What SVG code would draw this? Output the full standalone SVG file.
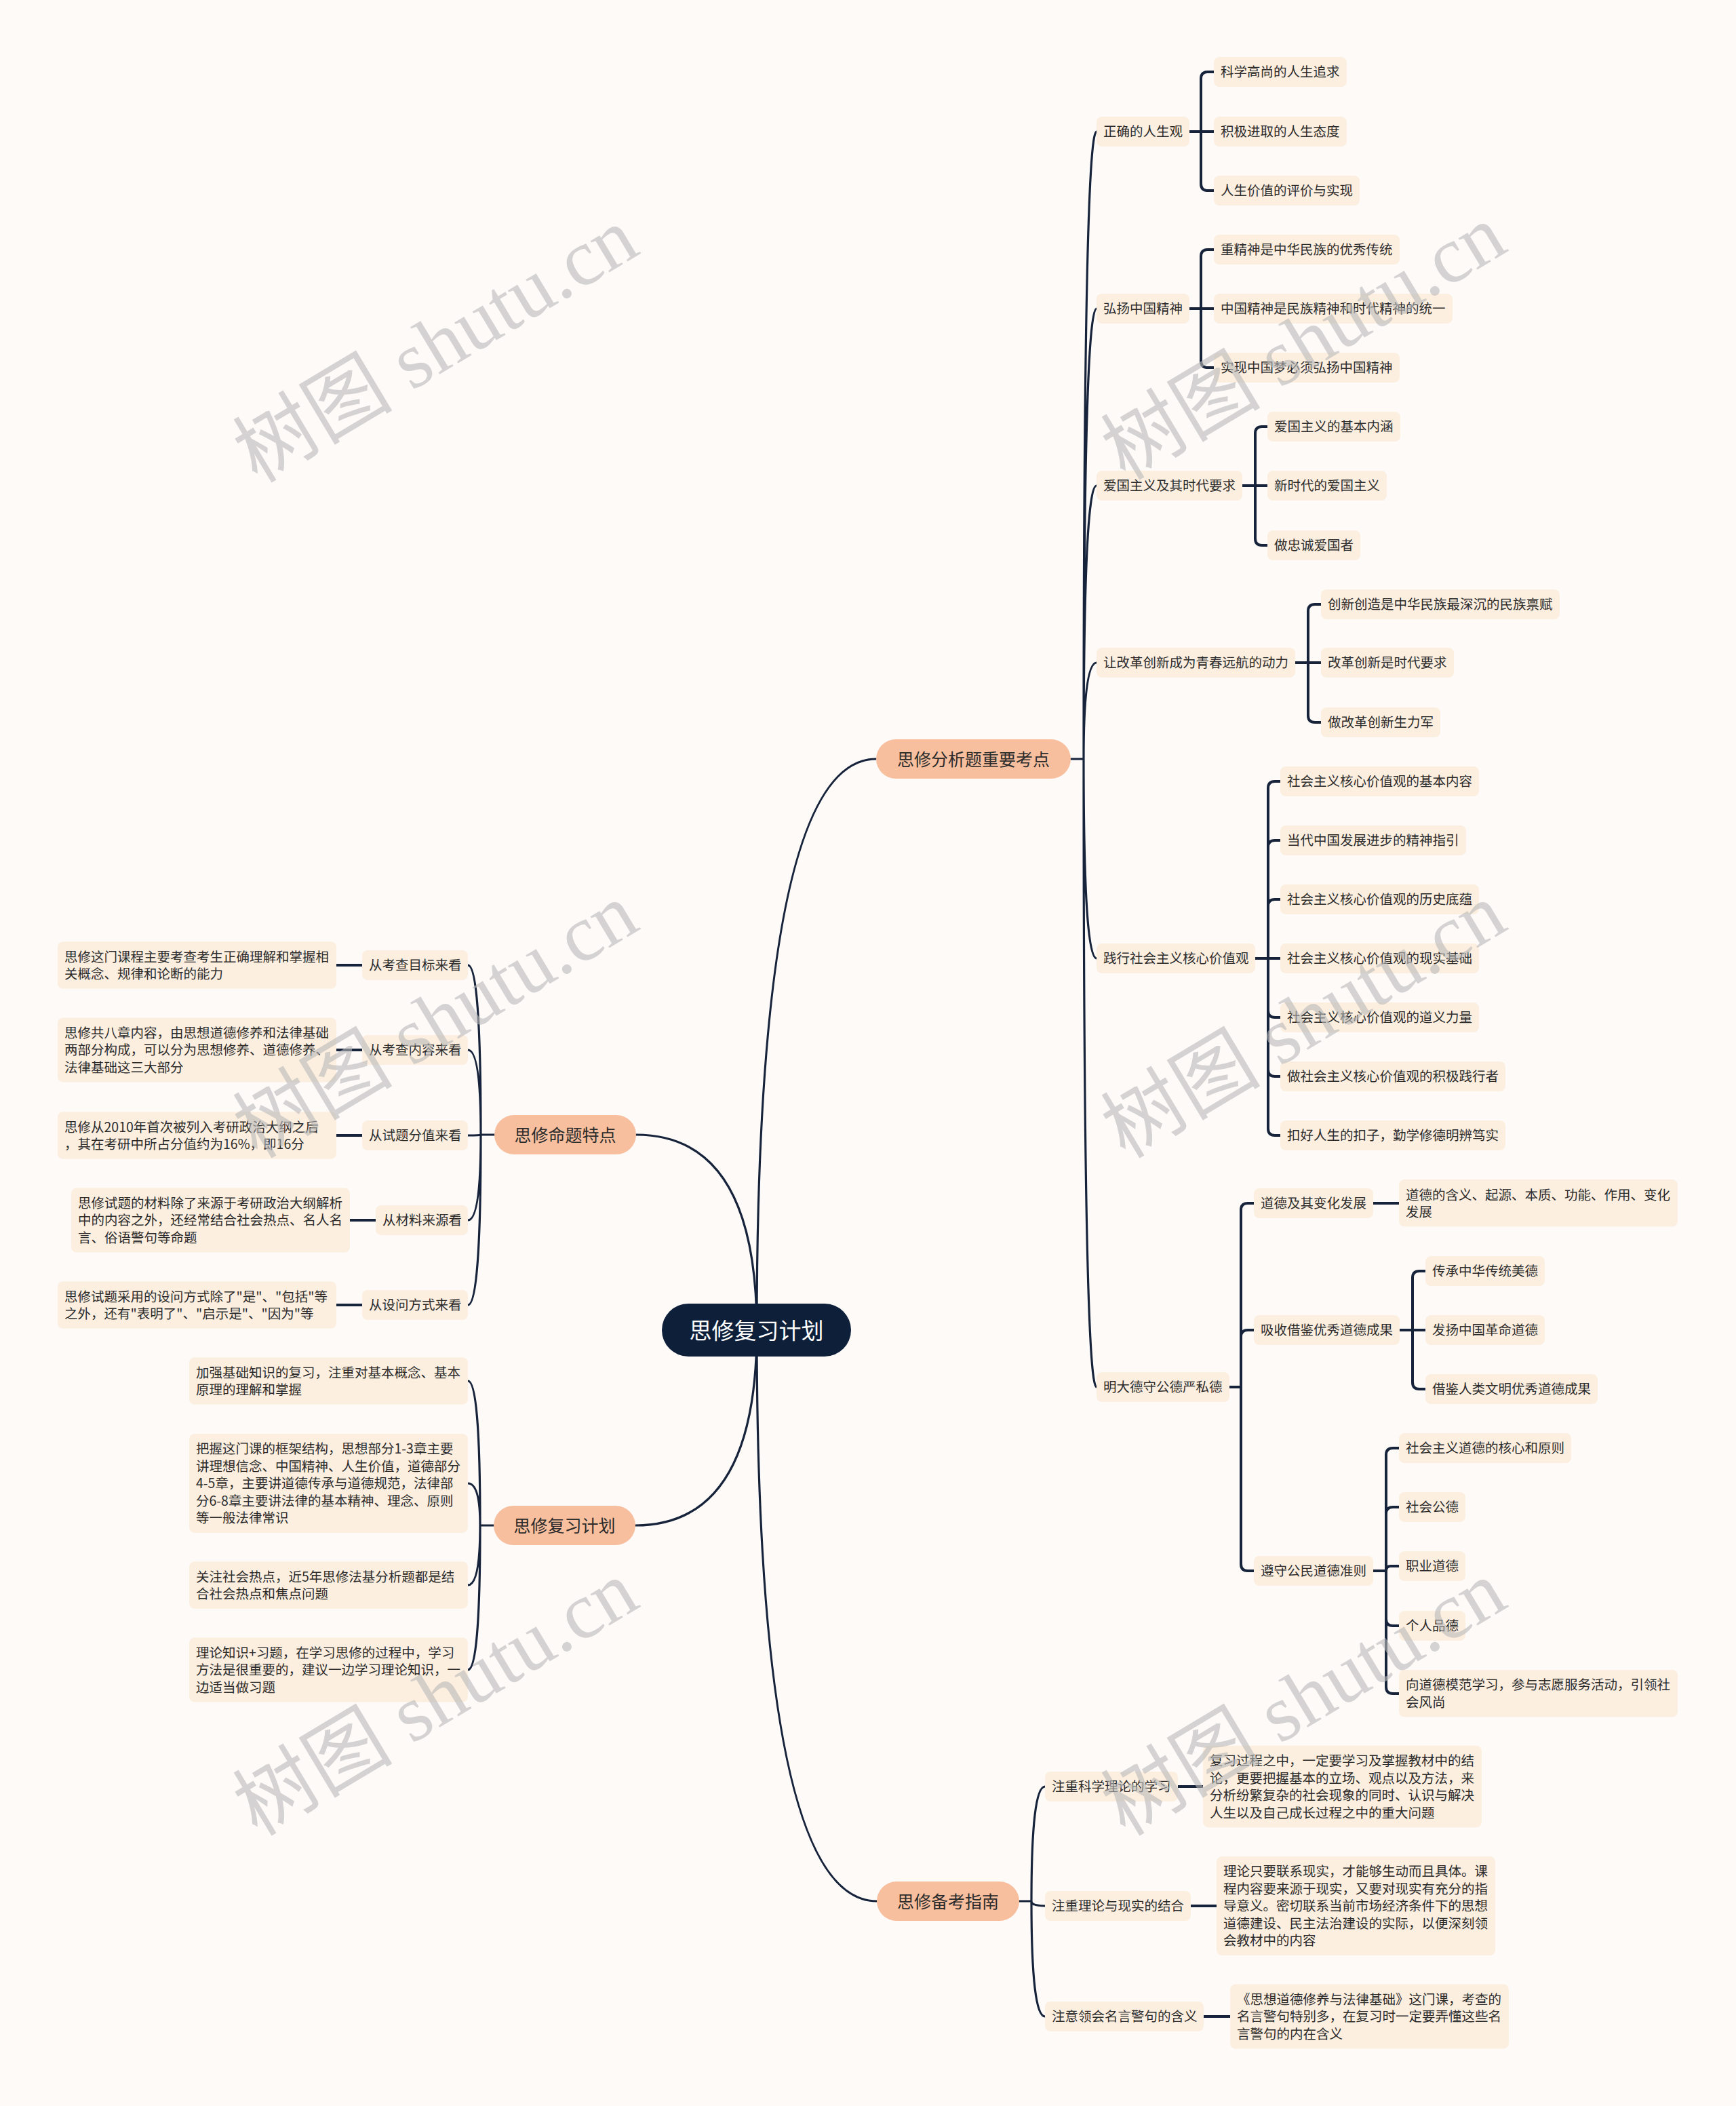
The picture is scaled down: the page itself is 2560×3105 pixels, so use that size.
<svg xmlns="http://www.w3.org/2000/svg" width="2560" height="3105" viewBox="0 0 2560 3105">
<style>
text{font-family:"Noto Sans CJK SC","Liberation Sans",sans-serif;fill:#2b2b2b}
.n rect{fill:#fdefe0}
.n text{font-size:19.5px}
.l1 rect{fill:#f8bf9e}
.l1 text{font-size:25px;text-anchor:middle}
.root rect{fill:#0e1f3a}
.root text{font-size:33px;fill:#ffffff;text-anchor:middle}
.cv{fill:none;stroke:#16233b;stroke-width:3.2;stroke-linecap:round}
.br{fill:none;stroke:#16233b;stroke-width:4;stroke-linecap:round;stroke-linejoin:round}
.wm{font-family:"Liberation Serif","Noto Sans CJK SC",serif;font-size:118px;fill:#b9b9b9;opacity:0.6;text-anchor:middle}
</style>
<rect width="2560" height="3105" fill="#fdfaf8"/>

<g id="connectors">
<path class="cv" d="M1116 1961 Q1116 1119 1292 1119"/>
<path class="cv" d="M1116 1961 Q1116 1673 938 1673"/>
<path class="cv" d="M1116 1961 Q1116 2249 937 2249"/>
<path class="cv" d="M1116 1961 Q1116 2803 1293 2803"/>
<path class="cv" d="M1579 1119 H1598 M1598 1119 Q1598 194 1617 194 M1598 1119 Q1598 455 1617 455 M1598 1119 Q1598 716 1617 716 M1598 1119 Q1598 977 1617 977 M1598 1119 Q1598 1413 1617 1413 M1598 1119 Q1598 2045 1617 2045"/>
<path class="cv" d="M729 1673 H709 M709 1673 Q709 1423 690 1423 M709 1673 Q709 1548 690 1548 M709 1673 Q709 1674 690 1674 M709 1673 Q709 1799 690 1799 M709 1673 Q709 1924 690 1924"/>
<path class="cv" d="M728 2249 H708 M708 2249 Q708 2036 690 2036 M708 2249 Q708 2187 690 2187 M708 2249 Q708 2337 690 2337 M708 2249 Q708 2462 690 2462"/>
<path class="cv" d="M1503 2803 H1521 M1521 2803 Q1521 2634 1541 2634 M1521 2803 Q1521 2810 1541 2810 M1521 2803 Q1521 2973 1541 2973"/>
<path class="br" d="M1754 194 H1790 M1771 194 V116 Q1771 106 1781 106 H1790 M1771 194 V271 Q1771 281 1781 281 H1790"/>
<path class="br" d="M1754 455 H1790 M1771 455 V378 Q1771 368 1781 368 H1790 M1771 455 V532 Q1771 542 1781 542 H1790"/>
<path class="br" d="M1832 716 H1869 M1851 716 V639 Q1851 629 1861 629 H1869 M1851 716 V794 Q1851 804 1861 804 H1869"/>
<path class="br" d="M1910 977 H1948 M1929 977 V901 Q1929 891 1939 891 H1948 M1929 977 V1055 Q1929 1065 1939 1065 H1948"/>
<path class="br" d="M1851 1413 H1888 M1870 1413 V1162 Q1870 1152 1880 1152 H1888 M1870 1413 V1249 Q1870 1239 1880 1239 H1888 M1870 1413 V1336 Q1870 1326 1880 1326 H1888 M1870 1413 V1490 Q1870 1500 1880 1500 H1888 M1870 1413 V1577 Q1870 1587 1880 1587 H1888 M1870 1413 V1664 Q1870 1674 1880 1674 H1888"/>
<path class="br" d="M1813 2045 H1830 M1830 2045 V1784 Q1830 1774 1840 1774 H1849 M1830 2045 V1971 Q1830 1961 1840 1961 H1849 M1830 2045 V2306 Q1830 2316 1840 2316 H1849"/>
<path class="br" d="M2025 1774 H2063"/>
<path class="br" d="M2064 1961 H2102 M2083 1961 V1884 Q2083 1874 2093 1874 H2102 M2083 1961 V2038 Q2083 2048 2093 2048 H2102"/>
<path class="br" d="M2025 2316 H2044 M2044 2316 V2145 Q2044 2135 2054 2135 H2063 M2044 2316 V2232 Q2044 2222 2054 2222 H2063 M2044 2316 Q2044 2309 2051 2309 H2063 M2044 2316 V2387 Q2044 2397 2054 2397 H2063 M2044 2316 V2487 Q2044 2497 2054 2497 H2063"/>
<path class="br" d="M496 1423 H534 M496 1548 H534 M496 1674 H534 M516 1799 H554 M496 1924 H534"/>
<path class="br" d="M1737 2634 H1774 M1756 2810 H1794 M1775 2973 H1814"/>
</g>

<g id="root" class="root"><rect x="976" y="1922" width="279" height="78" rx="39"/><text x="1115.5" y="1973.5">思修复习计划</text></g>

<g id="b1" class="l1"><rect x="1292" y="1090" width="287" height="58" rx="29"/><text x="1435.5" y="1128.5">思修分析题重要考点</text></g>
<g id="b2" class="l1"><rect x="729" y="1644" width="209" height="58" rx="29"/><text x="833.5" y="1682.5">思修命题特点</text></g>
<g id="b3" class="l1"><rect x="728" y="2220" width="209" height="58" rx="29"/><text x="832.5" y="2258.5">思修复习计划</text></g>
<g id="b4" class="l1"><rect x="1293" y="2774" width="210" height="58" rx="29"/><text x="1398" y="2812.5">思修备考指南</text></g>

<g id="n1" class="n"><rect x="1617" y="172" width="137" height="44" rx="8"/><text x="1627" y="201.4">正确的人生观</text></g>
<g id="n1a" class="n"><rect x="1790" y="84" width="196" height="44" rx="8"/><text x="1800" y="113.4">科学高尚的人生追求</text></g>
<g id="n1b" class="n"><rect x="1790" y="172" width="196" height="44" rx="8"/><text x="1800" y="201.4">积极进取的人生态度</text></g>
<g id="n1c" class="n"><rect x="1790" y="259" width="215" height="44" rx="8"/><text x="1800" y="288.4">人生价值的评价与实现</text></g>

<g id="n2" class="n"><rect x="1617" y="433" width="137" height="44" rx="8"/><text x="1627" y="462.4">弘扬中国精神</text></g>
<g id="n2a" class="n"><rect x="1790" y="346" width="274" height="44" rx="8"/><text x="1800" y="375.4">重精神是中华民族的优秀传统</text></g>
<g id="n2b" class="n"><rect x="1790" y="433" width="352" height="44" rx="8"/><text x="1800" y="462.4">中国精神是民族精神和时代精神的统一</text></g>
<g id="n2c" class="n"><rect x="1790" y="520" width="274" height="44" rx="8"/><text x="1800" y="549.4">实现中国梦必须弘扬中国精神</text></g>

<g id="n3" class="n"><rect x="1617" y="694" width="215" height="44" rx="8"/><text x="1627" y="723.4">爱国主义及其时代要求</text></g>
<g id="n3a" class="n"><rect x="1869" y="607" width="196" height="44" rx="8"/><text x="1879" y="636.4">爱国主义的基本内涵</text></g>
<g id="n3b" class="n"><rect x="1869" y="694" width="176" height="44" rx="8"/><text x="1879" y="723.4">新时代的爱国主义</text></g>
<g id="n3c" class="n"><rect x="1869" y="782" width="137" height="44" rx="8"/><text x="1879" y="811.4">做忠诚爱国者</text></g>

<g id="n4" class="n"><rect x="1617" y="955" width="293" height="44" rx="8"/><text x="1627" y="984.4">让改革创新成为青春远航的动力</text></g>
<g id="n4a" class="n"><rect x="1948" y="869" width="352" height="44" rx="8"/><text x="1958" y="898.4">创新创造是中华民族最深沉的民族禀赋</text></g>
<g id="n4b" class="n"><rect x="1948" y="955" width="196" height="44" rx="8"/><text x="1958" y="984.4">改革创新是时代要求</text></g>
<g id="n4c" class="n"><rect x="1948" y="1043" width="176" height="44" rx="8"/><text x="1958" y="1072.4">做改革创新生力军</text></g>

<g id="n5" class="n"><rect x="1617" y="1391" width="234" height="44" rx="8"/><text x="1627" y="1420.4">践行社会主义核心价值观</text></g>
<g id="n5a" class="n"><rect x="1888" y="1130" width="293" height="44" rx="8"/><text x="1898" y="1159.4">社会主义核心价值观的基本内容</text></g>
<g id="n5b" class="n"><rect x="1888" y="1217" width="274" height="44" rx="8"/><text x="1898" y="1246.4">当代中国发展进步的精神指引</text></g>
<g id="n5c" class="n"><rect x="1888" y="1304" width="293" height="44" rx="8"/><text x="1898" y="1333.4">社会主义核心价值观的历史底蕴</text></g>
<g id="n5d" class="n"><rect x="1888" y="1391" width="293" height="44" rx="8"/><text x="1898" y="1420.4">社会主义核心价值观的现实基础</text></g>
<g id="n5e" class="n"><rect x="1888" y="1478" width="293" height="44" rx="8"/><text x="1898" y="1507.4">社会主义核心价值观的道义力量</text></g>
<g id="n5f" class="n"><rect x="1888" y="1565" width="332" height="44" rx="8"/><text x="1898" y="1594.4">做社会主义核心价值观的积极践行者</text></g>
<g id="n5g" class="n"><rect x="1888" y="1652" width="332" height="44" rx="8"/><text x="1898" y="1681.4">扣好人生的扣子，勤学修德明辨笃实</text></g>

<g id="n6" class="n"><rect x="1617" y="2023" width="196" height="44" rx="8"/><text x="1627" y="2052.4">明大德守公德严私德</text></g>
<g id="n6a" class="n"><rect x="1849" y="1752" width="176" height="44" rx="8"/><text x="1859" y="1781.4">道德及其变化发展</text></g>
<g id="n6a1" class="n"><rect x="2063" y="1739" width="411" height="69.5" rx="8"/><text x="2073" y="1768.6">道德的含义、起源、本质、功能、作用、变化<tspan x="2073" y="1794.1">发展</tspan></text></g>
<g id="n6b" class="n"><rect x="1849" y="1939" width="215" height="44" rx="8"/><text x="1859" y="1968.4">吸收借鉴优秀道德成果</text></g>
<g id="n6b1" class="n"><rect x="2102" y="1852" width="176" height="44" rx="8"/><text x="2112" y="1881.4">传承中华传统美德</text></g>
<g id="n6b2" class="n"><rect x="2102" y="1939" width="176" height="44" rx="8"/><text x="2112" y="1968.4">发扬中国革命道德</text></g>
<g id="n6b3" class="n"><rect x="2102" y="2026" width="254" height="44" rx="8"/><text x="2112" y="2055.4">借鉴人类文明优秀道德成果</text></g>
<g id="n6c" class="n"><rect x="1849" y="2294" width="176" height="44" rx="8"/><text x="1859" y="2323.4">遵守公民道德准则</text></g>
<g id="n6c1" class="n"><rect x="2063" y="2113" width="254" height="44" rx="8"/><text x="2073" y="2142.4">社会主义道德的核心和原则</text></g>
<g id="n6c2" class="n"><rect x="2063" y="2200" width="98" height="44" rx="8"/><text x="2073" y="2229.4">社会公德</text></g>
<g id="n6c3" class="n"><rect x="2063" y="2287" width="98" height="44" rx="8"/><text x="2073" y="2316.4">职业道德</text></g>
<g id="n6c4" class="n"><rect x="2063" y="2375" width="98" height="44" rx="8"/><text x="2073" y="2404.4">个人品德</text></g>
<g id="n6c5" class="n"><rect x="2063" y="2462" width="411" height="69.5" rx="8"/><text x="2073" y="2491.4">向道德模范学习，参与志愿服务活动，引领社<tspan x="2073" y="2516.9">会风尚</tspan></text></g>

<g id="m1" class="n"><rect x="534" y="1401" width="156" height="44" rx="8"/><text x="544" y="1430.4">从考查目标来看</text></g>
<g id="m1d" class="n"><rect x="85" y="1388.25" width="411" height="69.5" rx="8"/><text x="95" y="1417.65">思修这门课程主要考查考生正确理解和掌握相<tspan x="95" y="1443.15">关概念、规律和论断的能力</tspan></text></g>
<g id="m2" class="n"><rect x="534" y="1526" width="156" height="44" rx="8"/><text x="544" y="1555.4">从考查内容来看</text></g>
<g id="m2d" class="n"><rect x="85" y="1500.5" width="411" height="95" rx="8"/><text x="95" y="1529.9">思修共八章内容，由思想道德修养和法律基础<tspan x="95" y="1555.4">两部分构成，可以分为思想修养、道德修养、</tspan><tspan x="95" y="1580.9">法律基础这三大部分</tspan></text></g>
<g id="m3" class="n"><rect x="534" y="1652" width="156" height="44" rx="8"/><text x="544" y="1681.4">从试题分值来看</text></g>
<g id="m3d" class="n"><rect x="85" y="1639.25" width="411" height="69.5" rx="8"/><text x="95" y="1668.65">思修从2010年首次被列入考研政治大纲之后<tspan x="95" y="1694.15">，其在考研中所占分值约为16%，即16分</tspan></text></g>
<g id="m4" class="n"><rect x="554" y="1777" width="136" height="44" rx="8"/><text x="564" y="1806.4">从材料来源看</text></g>
<g id="m4d" class="n"><rect x="105" y="1751.5" width="411" height="95" rx="8"/><text x="115" y="1780.9">思修试题的材料除了来源于考研政治大纲解析<tspan x="115" y="1806.4">中的内容之外，还经常结合社会热点、名人名</tspan><tspan x="115" y="1831.9">言、俗语警句等命题</tspan></text></g>
<g id="m5" class="n"><rect x="534" y="1902" width="156" height="44" rx="8"/><text x="544" y="1931.4">从设问方式来看</text></g>
<g id="m5d" class="n"><rect x="85" y="1889.25" width="411" height="69.5" rx="8"/><text x="95" y="1918.65">思修试题采用的设问方式除了"是"、"包括"等<tspan x="95" y="1944.15">之外，还有"表明了"、"启示是"、"因为"等</tspan></text></g>

<g id="p1" class="n"><rect x="279" y="2001.25" width="411" height="69.5" rx="8"/><text x="289" y="2030.65">加强基础知识的复习，注重对基本概念、基本<tspan x="289" y="2056.15">原理的理解和掌握</tspan></text></g>
<g id="p2" class="n"><rect x="279" y="2114" width="411" height="146" rx="8"/><text x="289" y="2143.4">把握这门课的框架结构，思想部分1-3章主要<tspan x="289" y="2168.9">讲理想信念、中国精神、人生价值，道德部分</tspan><tspan x="289" y="2194.4">4-5章，主要讲道德传承与道德规范，法律部</tspan><tspan x="289" y="2219.9">分6-8章主要讲法律的基本精神、理念、原则</tspan><tspan x="289" y="2245.4">等一般法律常识</tspan></text></g>
<g id="p3" class="n"><rect x="279" y="2302.25" width="411" height="69.5" rx="8"/><text x="289" y="2331.65">关注社会热点，近5年思修法基分析题都是结<tspan x="289" y="2357.15">合社会热点和焦点问题</tspan></text></g>
<g id="p4" class="n"><rect x="279" y="2414.5" width="411" height="95" rx="8"/><text x="289" y="2443.9">理论知识+习题，在学习思修的过程中，学习<tspan x="289" y="2469.4">方法是很重要的，建议一边学习理论知识，一</tspan><tspan x="289" y="2494.9">边适当做习题</tspan></text></g>

<g id="g1" class="n"><rect x="1541" y="2612" width="196" height="44" rx="8"/><text x="1551" y="2641.4">注重科学理论的学习</text></g>
<g id="g1d" class="n"><rect x="1774" y="2573.75" width="411" height="120.5" rx="8"/><text x="1784" y="2603.15">复习过程之中，一定要学习及掌握教材中的结<tspan x="1784" y="2628.65">论，更要把握基本的立场、观点以及方法，来</tspan><tspan x="1784" y="2654.15">分析纷繁复杂的社会现象的同时、认识与解决</tspan><tspan x="1784" y="2679.65">人生以及自己成长过程之中的重大问题</tspan></text></g>
<g id="g2" class="n"><rect x="1541" y="2788" width="215" height="44" rx="8"/><text x="1551" y="2817.4">注重理论与现实的结合</text></g>
<g id="g2d" class="n"><rect x="1794" y="2737" width="411" height="146" rx="8"/><text x="1804" y="2766.4">理论只要联系现实，才能够生动而且具体。课<tspan x="1804" y="2791.9">程内容要来源于现实，又要对现实有充分的指</tspan><tspan x="1804" y="2817.4">导意义。密切联系当前市场经济条件下的思想</tspan><tspan x="1804" y="2842.9">道德建设、民主法治建设的实际，以便深刻领</tspan><tspan x="1804" y="2868.4">会教材中的内容</tspan></text></g>
<g id="g3" class="n"><rect x="1541" y="2951" width="234" height="44" rx="8"/><text x="1551" y="2980.4">注意领会名言警句的含义</text></g>
<g id="g3d" class="n"><rect x="1814" y="2925.5" width="411" height="95" rx="8"/><text x="1824" y="2954.9">《思想道德修养与法律基础》这门课，考查的<tspan x="1824" y="2980.4">名言警句特别多，在复习时一定要弄懂这些名</tspan><tspan x="1824" y="3005.9">言警句的内在含义</tspan></text></g>

<g id="watermark">
<text class="wm" transform="translate(663 543) rotate(-31)">树图 shutu.cn</text>
<text class="wm" transform="translate(1943 539) rotate(-31)">树图 shutu.cn</text>
<text class="wm" transform="translate(663 1539) rotate(-31)">树图 shutu.cn</text>
<text class="wm" transform="translate(1943 1539) rotate(-31)">树图 shutu.cn</text>
<text class="wm" transform="translate(663 2538) rotate(-31)">树图 shutu.cn</text>
<text class="wm" transform="translate(1943 2538) rotate(-31)">树图 shutu.cn</text>
</g>
</svg>
